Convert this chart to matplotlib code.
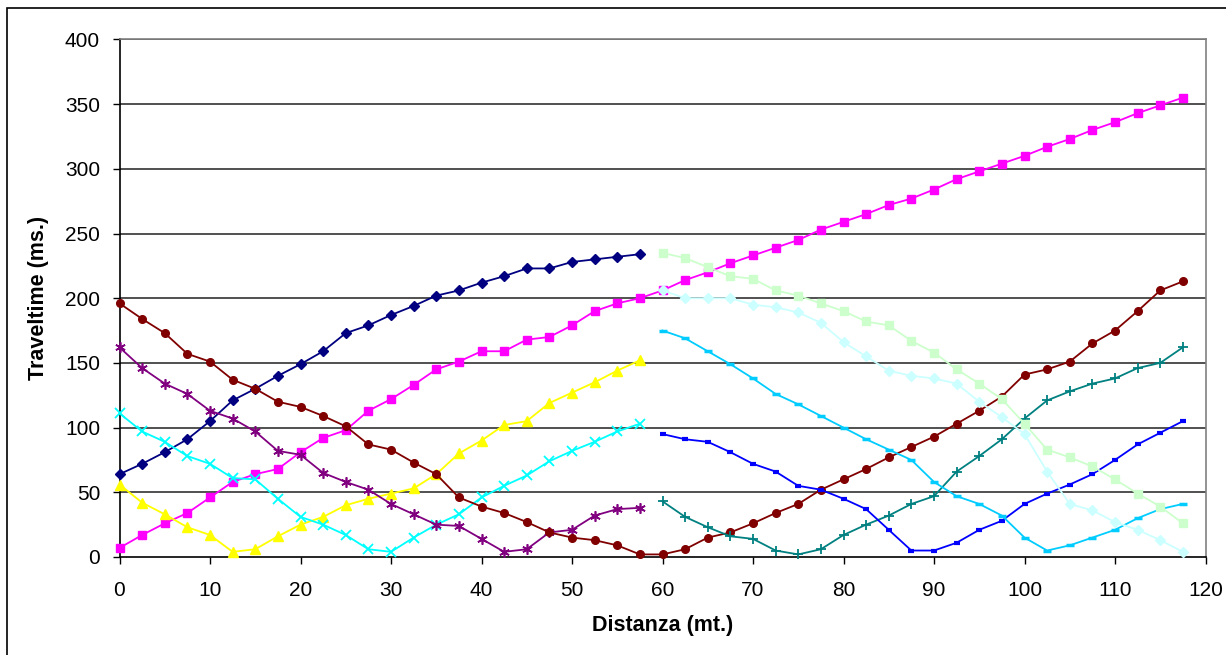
import matplotlib
matplotlib.use("Agg")
import matplotlib.pyplot as plt
from matplotlib.patches import Rectangle

# ---------------- data ----------------
dist_left = [0, 2.5, 5, 7.5, 10, 12.5, 15, 17.5, 20, 22.5, 25, 27.5,
             30, 32.5, 35, 37.5, 40, 42.5, 45, 47.5, 50, 52.5, 55, 57.5]
dist_right = [60, 62.5, 65, 67.5, 70, 72.5, 75, 77.5, 80, 82.5, 85, 87.5,
              90, 92.5, 95, 97.5, 100, 102.5, 105, 107.5, 110, 112.5, 115, 117.5]
dist_all = dist_left + dist_right

navy = [64, 72, 81, 91, 105, 121, 130, 140, 149, 159, 173, 179,
        187, 194, 202, 206, 212, 217, 223, 223, 228, 230, 232, 234]
magenta = [7, 17, 26, 34, 46, 58, 64, 68, 81, 92, 98, 113,
           122, 133, 145, 151, 159, 159, 168, 170, 179, 190, 196, 200,
           206, 214, 220, 227, 233, 239, 245, 253, 259, 265, 272, 277,
           284, 292, 298, 304, 310, 317, 323, 330, 336, 343, 349, 355]
yellow = [56, 42, 33, 23, 17, 4, 6, 16, 25, 31, 40, 45,
          49, 53, 64, 80, 90, 102, 105, 119, 127, 135, 144, 152]
cyan = [111, 97, 89, 78, 72, 61, 60, 45, 31, 25, 17, 6,
        4, 15, 25, 33, 46, 55, 63, 74, 82, 89, 97, 103]
purple = [162, 146, 134, 126, 113, 107, 97, 82, 79, 65, 58, 52,
          41, 33, 25, 24, 14, 4, 6, 19, 21, 32, 37, 38]
darkred = [196, 184, 173, 157, 151, 137, 130, 120, 116, 109, 101, 87,
           83, 73, 64, 46, 39, 34, 27, 19, 15, 13, 9, 2,
           2, 6, 15, 19, 26, 34, 41, 52, 60, 68, 77, 85,
           93, 103, 113, 124, 141, 145, 151, 165, 175, 190, 206, 213]
teal = [43, 31, 23, 16, 14, 5, 2, 6, 17, 25, 32, 41,
        47, 66, 78, 91, 107, 121, 128, 134, 138, 146, 150, 162]
blue = [95, 91, 89, 81, 72, 66, 55, 52, 45, 37, 21, 5,
        5, 11, 21, 28, 41, 49, 56, 64, 75, 87, 96, 105]
skyblue = [175, 169, 159, 149, 138, 126, 118, 109, 100, 91, 83, 75,
           58, 47, 41, 32, 15, 5, 9, 15, 21, 30, 37, 41]
lightturq = [206, 200, 200, 200, 195, 193, 189, 181, 166, 155, 144, 140,
             138, 134, 120, 108, 95, 66, 41, 36, 27, 21, 13, 4]
lightgreen = [235, 231, 224, 217, 215, 206, 202, 196, 190, 182, 179, 167,
              158, 145, 134, 122, 103, 83, 77, 70, 60, 49, 39, 26]

x_ticks = [0, 10, 20, 30, 40, 50, 60, 70, 80, 90, 100, 110, 120]
y_ticks = [0, 50, 100, 150, 200, 250, 300, 350, 400]
x_label = "Distanza (mt.)"
y_label = "Traveltime (ms.)"

# ---------------- figure ----------------
plt.rcParams['font.family'] = ['Liberation Sans', 'DejaVu Sans']
W, H = 1226, 655
fig = plt.figure(figsize=(W / 100, H / 100), dpi=100)
fig.patch.set_facecolor('white')
ax = fig.add_axes([119.5 / W, 1 - 557 / H, (1205.5 - 119.5) / W, (557 - 39.4) / H])

# outer chart border
fig.patches.append(Rectangle((7 / W, -0.05), 1.1, 1.05 - 8 / H, transform=fig.transFigure,
                             fill=False, edgecolor='black', linewidth=1.2, zorder=0))

for y in y_ticks[1:]:
    ax.axhline(y, color='#202020', linewidth=1.1, zorder=1)

lw = 1.3
series = [
    (dist_left, navy, '#000080', dict(marker='D', ms=5.5)),
    (dist_all, magenta, '#FF00FF', dict(marker='s', ms=5.5)),
    (dist_left, yellow, '#FFFF00', dict(marker='^', ms=6.5)),
    (dist_left, cyan, '#00FFFF', dict(marker='x', ms=6.5, mew=1.3)),
    (dist_left, purple, '#800080', dict(marker=(6, 2, 0), ms=7.5, mew=1.2)),
    (dist_all, darkred, '#800000', dict(marker='o', ms=5.5)),
    (dist_right, teal, '#008080', dict(marker='+', ms=7.5, mew=1.3)),
    (dist_right, blue, '#0000FF', dict(marker='_', ms=4.5, mew=3)),
    (dist_right, skyblue, '#00CCFF', dict(marker='_', ms=6, mew=2.5)),
    (dist_right, lightturq, '#CCFFFF', dict(marker='D', ms=5.5)),
    (dist_right, lightgreen, '#CCFFCC', dict(marker='s', ms=5.5)),
]
for i, (xs, ys, col, mk) in enumerate(series):
    ax.plot(xs, ys, color=col, linewidth=lw, markerfacecolor=col,
            markeredgecolor=col, zorder=3 + i, clip_on=False, **mk)

ax.set_xlim(0, 120)
ax.set_ylim(0, 400)
ax.set_xticks(x_ticks)
ax.set_yticks(y_ticks)
ax.tick_params(axis='both', direction='out', length=5, width=1, labelsize=15, color='black')
ax.tick_params(axis='x', pad=12)
ax.tick_params(axis='y', pad=9)

ax.spines['left'].set_color('black')
ax.spines['bottom'].set_color('black')
ax.spines['top'].set_color('#808080')
ax.spines['right'].set_color('#808080')
for s in ax.spines.values():
    s.set_linewidth(1.2)
    s.set_zorder(2)

fig.text(663 / W, 1 - 625 / H, x_label, ha='center', va='center', fontsize=15.5, fontweight='bold')
fig.text(39 / W, 1 - 298 / H, y_label, ha='center', va='center', rotation=90,
         fontsize=15.5, fontweight='bold')

fig.savefig('out.png', dpi=100, facecolor='white')
